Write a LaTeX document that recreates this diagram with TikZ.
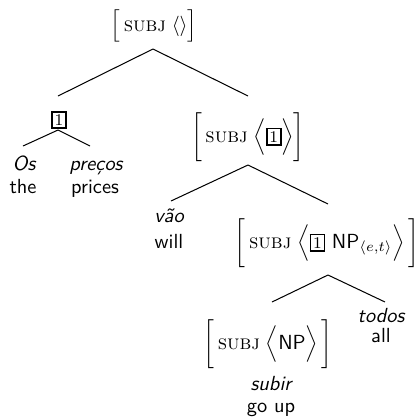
\documentclass[tikz,border=0pt]{standalone}
\usepackage{amsmath}
\usepackage{graphicx}
\usetikzlibrary{calc}
\newcommand{\tagbox}[1]{{\setlength{\fboxsep}{0.9pt}\setlength{\fboxrule}{0.8pt}\fbox{\footnotesize #1}}}
\newcommand{\subjf}{\text{\textsc{subj}}}
\newcommand{\smbrk}[1]{\mathord{\vcenter{\hbox{\scalebox{1}[0.88]{$\Big#1$}}}}}
\begin{document}
\begin{tikzpicture}[x=0.49pt,y=-0.49pt,
  avm/.style={inner sep=0pt},
  tagn/.style={inner sep=0pt},
  word/.style={font=\sffamily\itshape, anchor=base, inner sep=0pt},
  gloss/.style={font=\sffamily, anchor=base, inner sep=0pt},
  branch/.style={line width=0.5pt}]
\useasboundingbox (0,0) rectangle (417,419);
% nodes
\node[avm] (top) at (154,26) {$\smbrk[\,\subjf\;\langle\rangle\smbrk]$};
\node[tagn] (tag) at (59,120) {\tagbox{1}};
\node[word] (os) at (24,170) {Os};
\node[word] (precos) at (96,170) {preços};
\node[gloss] (the) at (23,193) {the};
\node[gloss] (prices) at (95,193) {prices};
\node[avm] (s2) at (248,137) {$\bigg[\,\subjf\;\Big\langle\tagbox{1}\Big\rangle\bigg]$};
\node[word] (vao) at (169,222) {vão};
\node[gloss] (will) at (169,248) {will};
\node[avm] (s3) at (327,243) {$\bigg[\,\subjf\;\Big\langle\tagbox{1}\ \textsf{NP}_{\langle e,t\rangle}\Big\rangle\,\bigg]$};
\node[word] (todos) at (381,322) {todos};
\node[gloss] (all) at (381,342) {all};
\node[avm] (s4) at (268,344) {$\bigg[\,\subjf\;\Big\langle\textsf{NP}\Big\rangle\,\bigg]$};
\node[word] (subir) at (271,390) {subir};
\node[gloss] (goup) at (271,412) {go up};
% branch points
\coordinate (top-b) at (153,49);
\coordinate (tag-t) at (58,96);
\coordinate (s2-t) at (248,96);
\coordinate (tag-b) at (58,130);
\coordinate (os-t) at (23,146);
\coordinate (precos-t) at (90,146);
\coordinate (s2-b) at (248,165);
\coordinate (vao-t) at (171,201);
\coordinate (s3-t) at (328,204);
\coordinate (s3-b) at (328,275);
\coordinate (s4-t) at (272,302);
\coordinate (todos-t) at (385,302);
% connectors
\draw[branch] (top-b) -- (tag-t);
\draw[branch] (top-b) -- (s2-t);
\draw[branch] (tag-b) -- (os-t);
\draw[branch] (tag-b) -- (precos-t);
\draw[branch] (s2-b) -- (vao-t);
\draw[branch] (s2-b) -- (s3-t);
\draw[branch] (s3-b) -- (s4-t);
\draw[branch] (s3-b) -- (todos-t);
\end{tikzpicture}
\end{document}
